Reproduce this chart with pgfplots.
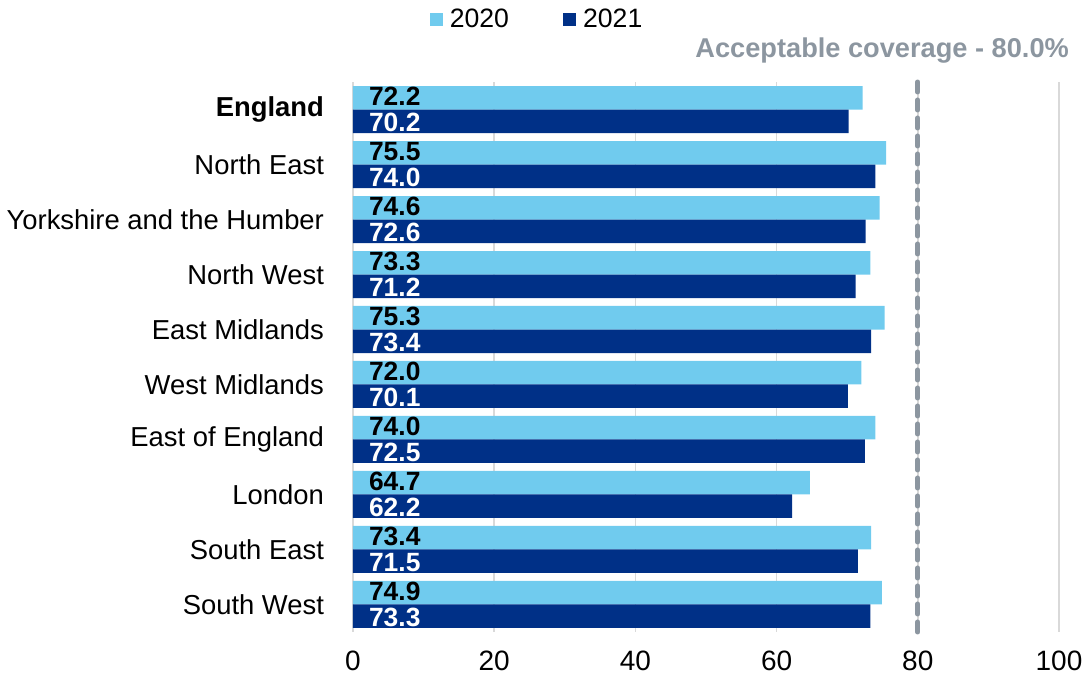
\documentclass[border=0pt]{standalone}
\usepackage{pgfplots}
\usepackage{pgfplotstable}
\pgfplotsset{compat=1.18}
\usepackage{fontspec}
\setmainfont{Liberation Sans}
\definecolor{lightb}{RGB}{112,203,238}
\definecolor{darkb}{RGB}{0,48,135}
\definecolor{refgray}{RGB}{140,150,160}
\definecolor{gridg}{RGB}{217,217,217}
\pgfplotstableread{
idx v2020 v2021
9 72.2 70.2
8 75.5 74.0
7 74.6 72.6
6 73.3 71.2
5 75.3 73.4
4 72.0 70.1
3 74.0 72.5
2 64.7 62.2
1 73.4 71.5
0 74.9 73.3
}\datatab
\begin{document}
\begin{tikzpicture}
\path[use as bounding box] (-176.5pt,-24pt) rectangle (365pt,316pt);
\begin{axis}[
  at={(0,0)}, anchor=south west,
  scale only axis, width=353pt, height=275pt,
  xmin=0, xmax=100, ymin=-0.5, ymax=9.5,
  xbar, bar width=11.75pt,
  axis line style={draw=none},
  xtick={0,20,40,60,80,100},
  xmajorgrids, grid style={gridg, line width=0.8pt},
  major tick length=0pt,
  ytick={0,...,9},
  yticklabels={South West,South East,London,East of England,West Midlands,East Midlands,North West,Yorkshire and the Humber,North East,\textbf{England}},
  yticklabel style={xshift=-11pt, font=\fontsize{13.7}{15}\selectfont},
  xticklabel style={yshift=-6pt, font=\fontsize{14}{16}\selectfont},
  /pgf/number format/assume math mode=true,
  legend style={at={(0.262,1.113)}, anchor=center, draw=none, fill=none, legend columns=2,
    font=\fontsize{13.3}{15}\selectfont, /tikz/every even column/.append style={column sep=25pt}},
  legend image code/.code={\fill[#1] (0pt,-3.3pt) rectangle (6.6pt,3.3pt);},
  clip=false,
]
\draw[gridg, line width=0.8pt] (axis cs:0,-0.5) -- (axis cs:0,9.5);
\addplot[fill=lightb, draw=none, bar shift=5.875pt] table[x=v2020, y=idx] {\datatab};
\addlegendentry{\hspace{1.5pt}2020}
\addplot[fill=darkb, draw=none, bar shift=-5.875pt] table[x=v2021, y=idx] {\datatab};
\addlegendentry{\hspace{1.5pt}2021}
\addplot[forget plot, draw=none, fill=none, bar shift=5.875pt, nodes near coords,
  point meta=explicit,
  nodes near coords style={anchor=west, xshift=4.5pt, yshift=0.6pt, inner ysep=0pt, font=\bfseries\fontsize{13.2}{14}\selectfont, text=black,
    /pgf/number format/.cd, fixed, fixed zerofill, precision=1}]
  table[x expr=0, y=idx, meta=v2020] {\datatab};
\addplot[forget plot, draw=none, fill=none, bar shift=-5.875pt, nodes near coords,
  point meta=explicit,
  nodes near coords style={anchor=west, xshift=4.5pt, yshift=-0.6pt, inner ysep=0pt, font=\bfseries\fontsize{13.2}{14}\selectfont, text=white,
    /pgf/number format/.cd, fixed, fixed zerofill, precision=1}]
  table[x expr=0, y=idx, meta=v2021] {\datatab};
\draw[refgray, line width=2.5pt, dash pattern=on 5pt off 4pt, line cap=round] (axis cs:80,-0.5) -- (axis cs:80,9.5);
\node[anchor=east, text=refgray, font=\bfseries\fontsize{13.6}{15}\selectfont] at (rel axis cs:1.024,1.058) {Acceptable coverage - 80.0\%};
\end{axis}
\end{tikzpicture}
\end{document}
